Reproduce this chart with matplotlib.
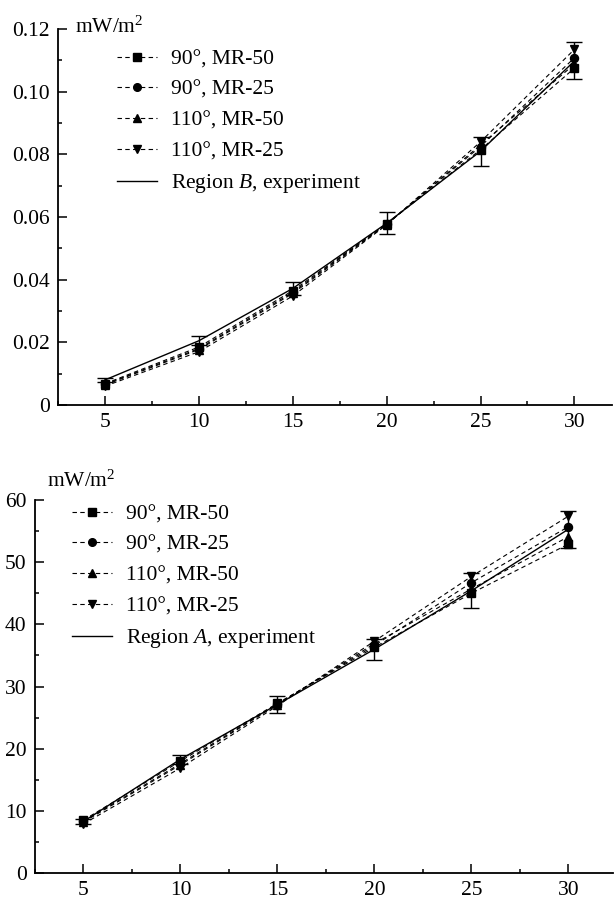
import matplotlib
matplotlib.use("Agg")
import matplotlib.pyplot as plt
from matplotlib.ticker import MultipleLocator, AutoMinorLocator, FuncFormatter
from matplotlib.lines import Line2D

plt.rcParams['font.family'] = ['Liberation Serif', 'DejaVu Serif']
plt.rcParams['mathtext.fontset'] = 'custom'
plt.rcParams['mathtext.rm'] = 'Liberation Serif'
plt.rcParams['mathtext.it'] = 'Liberation Serif:italic'

# Wind speed / abscissa values
x = [5, 10, 15, 20, 25, 30]

labels = ['90°, MR-50', '90°, MR-25', '110°, MR-50', '110°, MR-25']
markers = ['s', 'o', '^', 'v']

# Region B (upper panel), mW/m^2
b_90_mr50 = [0.0068, 0.0185, 0.0365, 0.0578, 0.0815, 0.1075]
b_90_mr25 = [0.0066, 0.0180, 0.0360, 0.0578, 0.0825, 0.1108]
b_110_mr50 = [0.0064, 0.0177, 0.0356, 0.0576, 0.0830, 0.1088]
b_110_mr25 = [0.0060, 0.0170, 0.0348, 0.0575, 0.0840, 0.1135]
b_exp = [0.0080, 0.0205, 0.0372, 0.0580, 0.0810, 0.1098]
b_err = [0.0006, 0.0014, 0.0022, 0.0035, 0.0046, 0.0059]

# Region A (lower panel), mW/m^2
a_90_mr50 = [8.5, 18.0, 27.3, 36.3, 45.0, 52.9]
a_90_mr25 = [8.3, 17.6, 27.2, 36.6, 46.7, 55.7]
a_110_mr50 = [8.2, 17.4, 27.1, 36.9, 45.7, 54.1]
a_110_mr25 = [7.9, 16.9, 26.9, 37.3, 47.7, 57.4]
a_exp = [8.3, 18.3, 27.1, 36.0, 45.4, 55.3]
a_err = [0.4, 0.7, 1.3, 1.7, 2.8, 2.95]

FS = 15.5

fig = plt.figure(figsize=(6.15, 9.07), dpi=100)
W, H = 615.0, 907.0


def px_axes(left, right, top, bottom):
    return fig.add_axes([left / W, 1 - bottom / H, (right - left) / W, (bottom - top) / H])


DASH = (0, (4.0, 3.0))


def draw_panel(ax, series, exp, err, region, ylim, ymajor, xlim, yfmt, unit_xy, leg_xy):
    handles = []
    for vals, lab, mk in zip(series, labels, markers):
        ax.plot(x, vals, color='black', lw=0.8, linestyle=DASH, marker=mk,
                markersize=5.8, markerfacecolor='black', markeredgecolor='black', zorder=3)
        handles.append(Line2D([], [], color='black', lw=0.8, linestyle=DASH, marker=mk,
                              markersize=5.5, markerfacecolor='black', markeredgecolor='black'))
    ax.errorbar(x, exp, yerr=err, color='black', lw=1.0, elinewidth=1.0,
                capsize=5.8, capthick=1.0, zorder=2)
    handles.append(Line2D([], [], color='black', lw=1.0))
    leg_labels = labels + ['Region $\\mathit{' + region + '}$, experiment']

    ax.set_xlim(*xlim)
    ax.set_ylim(*ylim)
    ax.xaxis.set_major_locator(MultipleLocator(5))
    ax.xaxis.set_minor_locator(AutoMinorLocator(2))
    ax.yaxis.set_major_locator(MultipleLocator(ymajor))
    ax.yaxis.set_minor_locator(AutoMinorLocator(2))
    ax.yaxis.set_major_formatter(FuncFormatter(yfmt))

    for s in ('top', 'right'):
        ax.spines[s].set_visible(False)
    for s in ('left', 'bottom'):
        ax.spines[s].set_linewidth(1.3)
    ax.tick_params(which='major', direction='in', length=6.5, width=1.1, labelsize=FS, pad=6)
    ax.tick_params(which='minor', direction='in', length=3.2, width=1.1)

    fig.text(unit_xy[0] / W, 1 - unit_xy[1] / H, 'mW/m$^2$', fontsize=FS,
             ha='left', va='baseline')

    ax.legend(handles, leg_labels, loc='upper left', frameon=False, fontsize=FS,
              bbox_to_anchor=(leg_xy[0] / W, 1 - leg_xy[1] / H),
              bbox_transform=fig.transFigure, borderaxespad=0, borderpad=0,
              handlelength=1.85, handletextpad=0.65, labelspacing=0.5, numpoints=1)


ax1 = px_axes(58, 612, 29, 405)
draw_panel(ax1, [b_90_mr50, b_90_mr25, b_110_mr50, b_110_mr25], b_exp, b_err, 'B',
           (0, 0.12), 0.02, (2.5, 32.0),
           lambda v, p: '0' if abs(v) < 1e-12 else f'{v:.2f}',
           (75, 33), (117, 49))

ax2 = px_axes(35, 613, 500, 873)
draw_panel(ax2, [a_90_mr50, a_90_mr25, a_110_mr50, a_110_mr25], a_exp, a_err, 'A',
           (0, 60), 10, (2.5, 32.3),
           lambda v, p: f'{v:.0f}',
           (47, 487), (72, 504))

fig.savefig('out.png', dpi=100)
